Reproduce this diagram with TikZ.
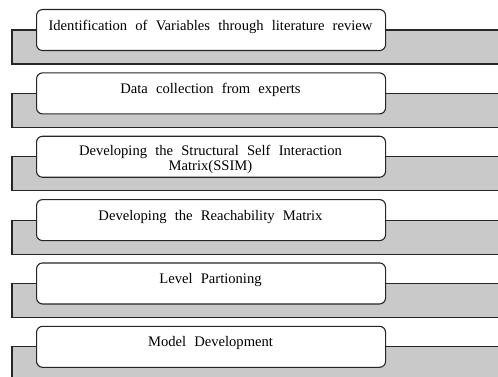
\documentclass[tikz,border=0pt]{standalone}
\usepackage{fontspec}
\setmainfont{Liberation Serif}
\newcommand{\stepfont}{\fontsize{14.6}{15.6}\selectfont\spaceskip=0.56em\relax}
\begin{document}
\begin{tikzpicture}[x=1pt,y=-1pt,
  band/.style={draw=black!85, line width=1.1pt, fill=black!21},
  stepbox/.style={draw=black!85, line width=1.1pt, fill=white, rounded corners=6pt},
  steptext/.style={anchor=base, inner sep=0pt, font=\stepfont, align=center}]
\useasboundingbox (0,0) rectangle (498,377);
\clip (0,0) rectangle (498,377);
\foreach \i/\txt/\dy in {
  0/{Identification of Variables through literature review}/22,
  1/{Data collection from experts}/21,
  2/{Developing the Structural Self Interaction\\Matrix(SSIM)}/35,
  3/{Developing the Reachability Matrix}/21,
  4/{Level Partioning}/21,
  5/{Model Development}/21} {
  \pgfmathsetmacro{\t}{9+63.35*\i}
  % grey ledge behind each step
  \path[band] (12,\t+21) rectangle (520,\t+55);
  % white step box
  \node[stepbox, anchor=north west, minimum width=349pt, minimum height=41pt, inner sep=0pt]
    (box\i) at (36,\t) {};
  \node[steptext] (lbl\i) at (210.5,\t+\dy) {\txt};
}
\end{tikzpicture}
\end{document}
